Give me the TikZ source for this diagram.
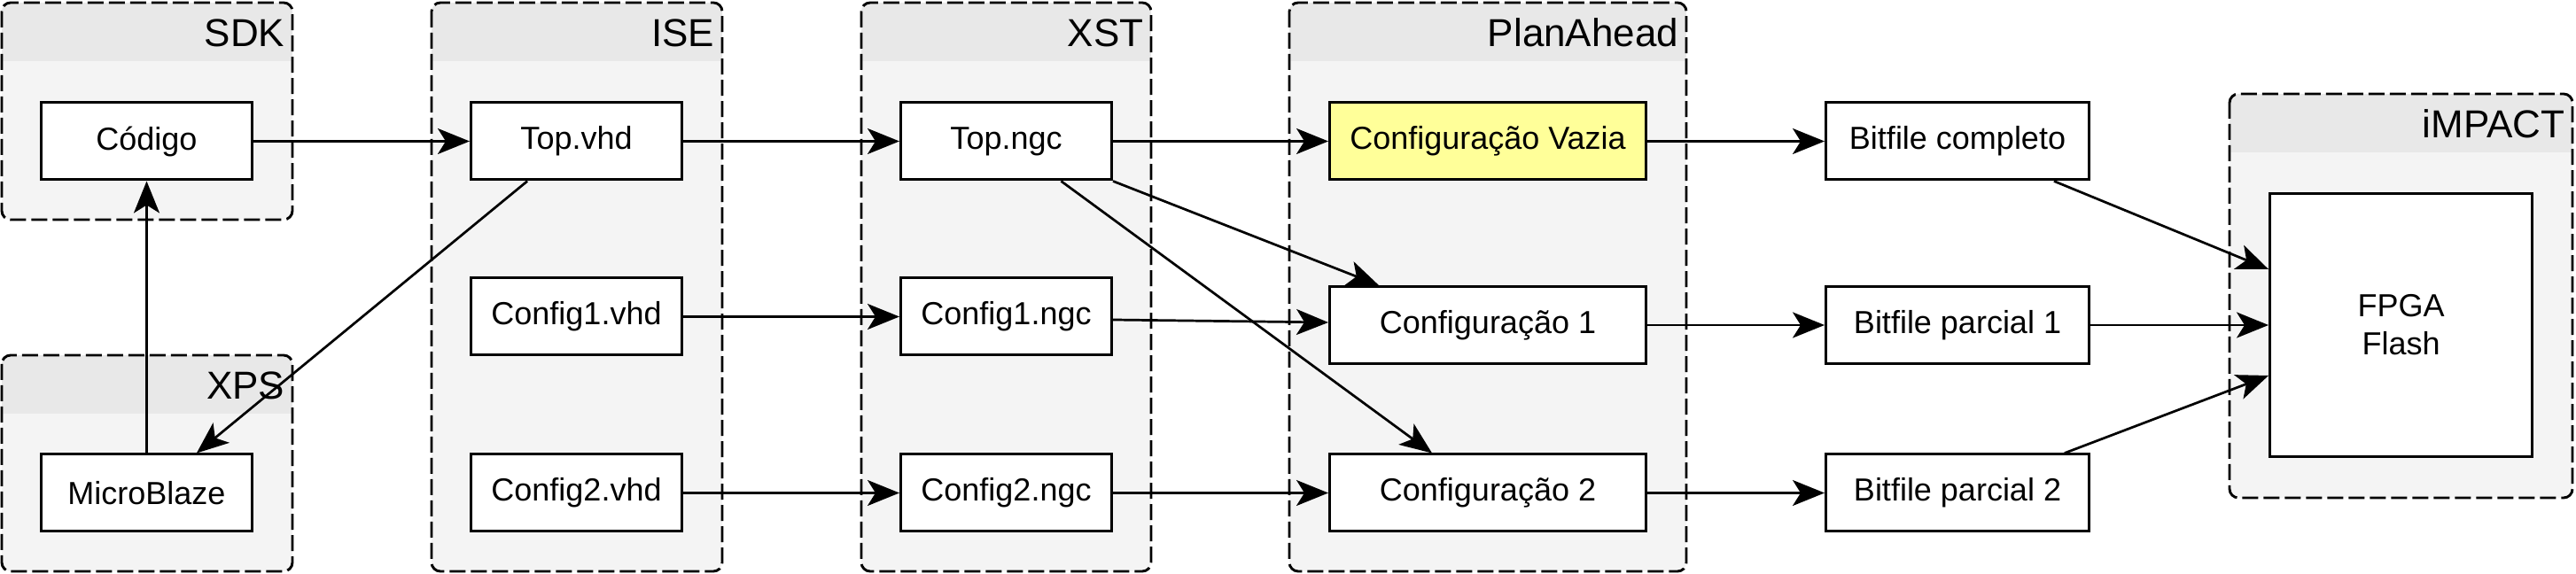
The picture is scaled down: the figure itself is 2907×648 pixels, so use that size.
\documentclass[tikz,border=0pt]{standalone}
\usepackage{fontspec}
\setmainfont{Liberation Sans}
\usetikzlibrary{arrows.meta,calc}
\definecolor{hdr}{HTML}{E8E8E8}
\definecolor{bdy}{HTML}{F4F4F4}
\definecolor{yel}{HTML}{FFFF99}
\newcommand\mygroup[6]{%
  \fill[bdy,rounded corners=2.5pt] (#2,#3) rectangle (#4,#5);
  \begin{scope}
    \clip[rounded corners=2.5pt] (#2,#3) rectangle (#4,#5);
    \fill[hdr] (#2,#3) rectangle (#4,#3+66);
  \end{scope}
  \draw[grpline] (#2,#3) rectangle (#4,#5);
  \node[grplabel, anchor=east] (#1) at (#4-8,#3+34) {#6};
}
\begin{document}
\begin{tikzpicture}[x=0.25pt,y=-0.25pt,
  grpline/.style={draw=black, line width=0.72pt, dash pattern=on 4.5pt off 1.5pt, rounded corners=2.5pt},
  grplabel/.style={inner sep=0pt, font=\fontsize{11pt}{13pt}\selectfont},
  box/.style={draw, line width=0.75pt, fill=white, minimum width=59.5pt, minimum height=21.75pt, inner sep=0pt, align=center, font=\fontsize{9pt}{10.75pt}\selectfont},
  widebox/.style={box, minimum width=89.25pt},
  bitbox/.style={box, minimum width=74.25pt},
  arr/.style={line width=0.68pt, -{Stealth[length=9pt,width=7.25pt,inset=2.25pt]}}
]
\useasboundingbox (0,0) rectangle (2907,648);

% groups
\mygroup{gsdk}{2}{3}{330}{248}{SDK}
\mygroup{gxps}{2}{401}{330}{645}{XPS}
\mygroup{gise}{487}{3}{815}{645}{ISE}
\mygroup{gxst}{972}{3}{1299}{645}{XST}
\mygroup{gplan}{1455}{3}{1903}{645}{PlanAhead}
\mygroup{gimp}{2516}{106}{2903}{562}{iMPACT}

% boxes
\node[box] (codigo) at (165.5,159.5) {Código};
\node[box] (micro) at (165.5,556.5) {MicroBlaze};
\node[box] (topv) at (650.5,159.5) {Top.vhd};
\node[box] (c1v) at (650.5,357.5) {Config1.vhd};
\node[box] (c2v) at (650.5,556.5) {Config2.vhd};
\node[box] (topn) at (1135.5,159.5) {Top.ngc};
\node[box] (c1n) at (1135.5,357.5) {Config1.ngc};
\node[box] (c2n) at (1135.5,556.5) {Config2.ngc};
\node[widebox, fill=yel] (cvaz) at (1679,159.5) {Configuração Vazia};
\node[widebox] (conf1) at (1679,367) {Configuração 1};
\node[widebox] (conf2) at (1679,556.5) {Configuração 2};
\node[bitbox] (bfc) at (2209,159.5) {Bitfile completo};
\node[bitbox] (bf1) at (2209,367) {Bitfile parcial 1};
\node[bitbox] (bf2) at (2209,556.5) {Bitfile parcial 2};
\node[box, minimum width=74pt, minimum height=74.25pt] (fpga) at (2709.5,367) {FPGA\\Flash};

% connectors
\draw[arr] (codigo) -- (topv);
\draw[arr] (micro) -- (codigo);
\draw[arr] ($(topv.south west)!0.27!(topv.south east)$) -- ($(micro.north west)!0.734!(micro.north east)$);
\draw[arr] (topv) -- (topn);
\draw[arr] (c1v) -- (c1n);
\draw[arr] (c2v) -- (c2n);
\draw[arr] (topn) -- (cvaz);
\draw[arr] (topn.south east) -- ($(conf1.north west)!0.158!(conf1.north east)$);
\draw[arr] ($(topn.south west)!0.757!(topn.south east)$) -- ($(conf2.north west)!0.325!(conf2.north east)$);
\draw[arr] ($(c1n.east)+(0,3.5)$) -- ($(conf1.west)+(0,-3)$);
\draw[arr] (c2n) -- (conf2);
\draw[arr] (cvaz) -- (bfc);
\draw[arr] (conf1) -- (bf1);
\draw[arr] (conf2) -- (bf2);
\draw[arr] ($(bfc.south west)!0.863!(bfc.south east)$) -- ($(fpga.north west)!0.29!(fpga.south west)$);
\draw[arr] (bf1) -- (fpga);
\draw[arr] ($(bf2.north west)!0.903!(bf2.north east)$) -- ($(fpga.north west)!0.69!(fpga.south west)$);
\end{tikzpicture}
\end{document}
